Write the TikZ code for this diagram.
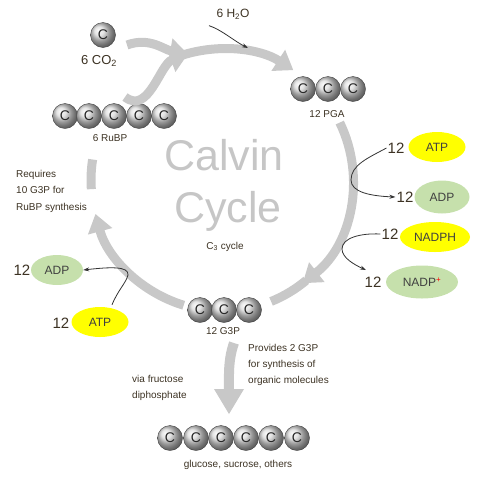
\documentclass[tikz,border=0pt]{standalone}
\usepackage{fontspec}
\setmainfont{Liberation Sans}
\usetikzlibrary{arrows.meta,calc,shapes.geometric}
\definecolor{ylw}{RGB}{255,255,0}
\definecolor{grn}{RGB}{198,224,172}
\definecolor{txt}{RGB}{60,50,35}
\definecolor{arcgray}{RGB}{200,200,200}
\begin{document}
\begin{tikzpicture}[x=1pt,y=-1pt,
  ball/.style={circle, minimum size=25pt, inner sep=0pt, shading=ball, ball color=gray!28,
    draw=gray!50!black, line width=0.4pt, font=\fontsize{14}{14}\selectfont, text=black!85},
  lbl/.style={font=\fontsize{10}{12}\selectfont, text=txt},
  num/.style={font=\fontsize{15}{15}\selectfont, text=txt, inner sep=1pt},
  ell/.style={ellipse, inner sep=0pt, font=\fontsize{12}{12}\selectfont, text=black!75},
  yell/.style={ell, fill=ylw},
  gell/.style={ell, fill=grn},
  big/.style={draw=arcgray, line width=9pt},
  bighead/.style={big, -{Triangle[width=24pt,length=18pt]}},
  thinarr/.style={draw=black!80, line width=0.8pt, -{Stealth[length=6pt,width=4pt]}},
  title/.style={font=\fontsize{43}{43}\selectfont, text=gray!45, anchor=base}
]
\useasboundingbox (0,0) rectangle (484,480);
\coordinate (cc) at (222,180);

% big cycle arcs
\draw[bighead] (cc) ++(-108:131) arc[start angle=-108, end angle=-57, radius=131];
\draw[bighead] (cc) ++(-26:131) arc[start angle=-26, end angle=52, radius=131];
\draw[big] (cc) ++(50:131) arc[start angle=50, end angle=68, radius=131];
\draw[bighead] (cc) ++(107:131) arc[start angle=107, end angle=165, radius=131];
\draw[big] (cc) ++(176:131) arc[start angle=176, end angle=189, radius=131];

% CO2 and RuBP
\node[ball] (co2c) at (103,35) {C};
\node[font=\fontsize{13}{13}\selectfont, text=txt] (co2) at (99,61) {6 CO\textsubscript{2}};
\foreach \i/\x in {1/65,2/89,3/114,4/139,5/164}{\node[ball] (r\i) at (\x,116) {C};}
\node[lbl] (rubp) at (110,138) {6 RuBP};
\coordinate (merge) at (188,54);
\coordinate (co2start) at (127,45);
\coordinate (rubpstart) at (125,97);
\draw[bighead] (co2start) to[out=20,in=170] (merge);
\draw[bighead] (rubpstart) to[out=-38,in=200] (merge);

% H2O
\node[font=\fontsize{12}{12}\selectfont, text=txt] (h2o) at (233,14) {6 H\textsubscript{2}O};
\coordinate (h2oend) at (248,48);
\draw[thinarr] (h2o.south west) ++(-4,3) .. controls (222,30) and (234,41) .. (h2oend);

% PGA
\foreach \i/\x in {1/303,2/328,3/353}{\node[ball] (p\i) at (\x,89) {C};}
\node[lbl] (pga) at (327,114) {12 PGA};

% G3P
\foreach \i/\x in {1/200,2/224,3/249}{\node[ball] (g\i) at (\x,310) {C};}
\node[lbl] (g3p) at (223,331) {12 G3P};

% glucose
\foreach \i/\x in {1/170,2/196,3/221,4/246,5/271,6/297}{\node[ball] (s\i) at (\x,438) {C};}
\node[lbl] (glc) at (238,465) {glucose, sucrose, others};

% bottom arrow
\coordinate (btop) at (234,343);
\coordinate (bmid) at (229,392);
\coordinate (bbot) at (229,414);
\draw[big, line width=10pt] (btop) .. controls (228,360) and (229,375) .. (bmid);
\fill[arcgray] (214,389) -- (244,389) -- (bbot) -- cycle;

% titles
\node[title] (calvin) at (224,170) {Calvin};
\node[title] (cycle) at (228,222) {Cycle};
\node[lbl, anchor=base] (c3) at (225,249) {C\textsubscript{3} cycle};

% texts
\node[lbl, align=left, anchor=north west, inner sep=0pt, font=\fontsize{10}{16.5}\selectfont] (req) at (16,170) {Requires\\10 G3P for\\RuBP synthesis};
\node[lbl, align=left, anchor=north west, inner sep=0pt, font=\fontsize{10}{16}\selectfont] (prov) at (248,344) {Provides 2 G3P\\for synthesis of\\organic molecules};
\node[lbl, align=left, anchor=north west, inner sep=0pt, font=\fontsize{10}{16}\selectfont] (via) at (132,375) {via fructose\\diphosphate};

% right side ellipses
\node[yell, minimum width=57pt, minimum height=30pt] (atp1) at (437,147) {ATP};
\node[num] (n1) at (396,148) {12};
\node[gell, minimum width=55pt, minimum height=33pt] (adp1) at (442,197) {ADP};
\node[num] (n2) at (405,197) {12};
\node[yell, minimum width=70pt, minimum height=30pt] (nadph) at (435,237) {NADPH};
\node[num] (n3) at (390,234) {12};
\node[gell, minimum width=72pt, minimum height=33pt] (nadp) at (422,282) {NADP\textsuperscript{\textcolor{red}{+}}};
\node[num] (n4) at (373,282) {12};

% left side ellipses
\node[gell, minimum width=52pt, minimum height=30pt] (adp2) at (57,270) {ADP};
\node[num] (n5) at (22,270) {12};
\node[yell, minimum width=57pt, minimum height=30pt] (atp2) at (100,322) {ATP};
\node[num] (n6) at (61,323) {12};

% thin connectors
\draw[thinarr] (n1.west) .. controls (368,158) and (351,165) .. (351,180) .. controls (351,192) and (370,196) .. (n2.west);
\draw[thinarr] (n3.west) .. controls (360,233) and (342,238) .. (342,249) .. controls (342,258) and (355,265) .. (366,270);
\draw[thinarr] (atp2.north) ++(12,-2) .. controls (118,290) and (126,283) .. (128,275) .. controls (129,266) and (110,267) .. (adp2.east);
\end{tikzpicture}
\end{document}
